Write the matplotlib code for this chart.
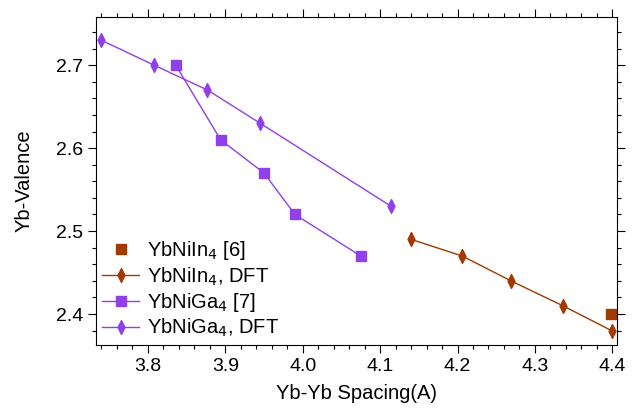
import matplotlib
matplotlib.use('Agg')
import matplotlib.pyplot as plt
from matplotlib.path import Path
from matplotlib.ticker import MultipleLocator

PURPLE = '#9040E8'
BROWN = '#A03A00'

plt.rcParams['font.family'] = ['Liberation Sans', 'DejaVu Sans']

# data
in4_exp_x = [4.398]
in4_exp_y = [2.40]
in4_dft_x = [4.140, 4.206, 4.269, 4.336, 4.399]
in4_dft_y = [2.49, 2.47, 2.44, 2.41, 2.38]
ga4_exp_x = [3.836, 3.894, 3.950, 3.990, 4.075]
ga4_exp_y = [2.70, 2.61, 2.57, 2.52, 2.47]
ga4_dft_x = [3.740, 3.808, 3.877, 3.945, 4.114]
ga4_dft_y = [2.73, 2.70, 2.67, 2.63, 2.53]

# narrow diamond like the original
DIAMOND = Path([(0, 1), (0.5, 0), (0, -1), (-0.5, 0), (0, 1)],
               [Path.MOVETO, Path.LINETO, Path.LINETO, Path.LINETO, Path.CLOSEPOLY])

fig = plt.figure(figsize=(6.34, 4.09), dpi=100)
ax = fig.add_axes([0.1514, 0.1565, 0.8218, 0.8019])

ax.plot(in4_exp_x, in4_exp_y, ls='none', marker='s', ms=6.5, color=BROWN,
        label='YbNiIn$_4$ [6]')
ax.plot(in4_dft_x, in4_dft_y, marker=DIAMOND, ms=10, lw=1, color=BROWN,
        label='YbNiIn$_4$, DFT')
ax.plot(ga4_exp_x, ga4_exp_y, marker='s', ms=6.5, lw=1, color=PURPLE,
        label='YbNiGa$_4$ [7]')
ax.plot(ga4_dft_x, ga4_dft_y, marker=DIAMOND, ms=10, lw=1, color=PURPLE,
        label='YbNiGa$_4$, DFT')

ax.set_xlim(3.733, 4.406)
ax.set_ylim(2.3627, 2.758)

ax.xaxis.set_major_locator(MultipleLocator(0.1))
ax.xaxis.set_minor_locator(MultipleLocator(0.02))
ax.yaxis.set_major_locator(MultipleLocator(0.1))
ax.yaxis.set_minor_locator(MultipleLocator(0.02))
ax.tick_params(which='both', direction='out', top=True, right=True,
               labelsize=14, width=0.8)
ax.tick_params(which='major', length=5.5, pad=4)
ax.tick_params(which='minor', length=3)
for s in ax.spines.values():
    s.set_linewidth(0.8)

ax.set_xlabel('Yb-Yb Spacing(A)', fontsize=14.5, labelpad=6)
ax.set_ylabel('Yb-Valence', fontsize=14.5, labelpad=16)

ax.legend(loc='lower left', frameon=False, fontsize=14.5, handlelength=1.85,
          labelspacing=0.15, borderaxespad=0.2, borderpad=0.1,
          handletextpad=0.4)

fig.savefig('out.png', dpi=100)
